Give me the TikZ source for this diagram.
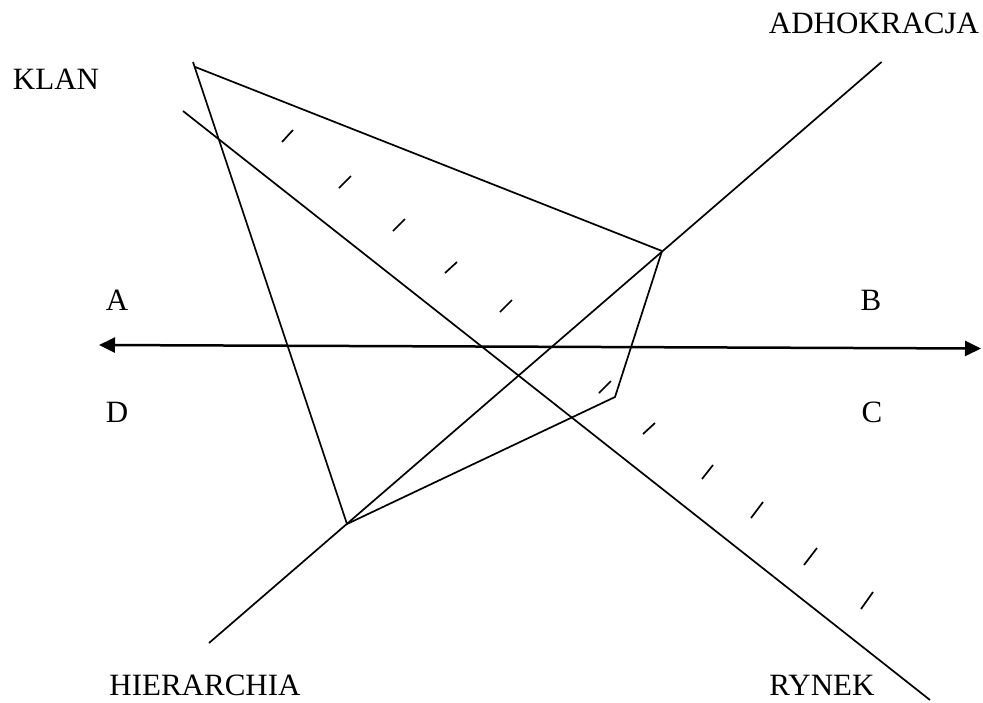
\documentclass[tikz,border=0pt]{standalone}
\usepackage{fontspec}
\setmainfont{Liberation Serif}
\usetikzlibrary{arrows.meta}
\begin{document}
\begin{tikzpicture}[x=1pt,y=-1pt,
  lbl/.style={anchor=base,inner sep=0pt,font=\fontsize{31}{31}\selectfont},
  thinline/.style={line width=1.7pt,line cap=butt},
  axisline/.style={line width=2.5pt,{Triangle[length=16pt,width=15pt]}-{Triangle[length=16pt,width=15pt]}},
  tick/.style={line width=1.7pt}]
\useasboundingbox (0,0) rectangle (983,702);
% labels
\node[lbl] (klan) at (56,89) {KLAN};
\node[lbl] (adh) at (874,33) {ADHOKRACJA};
\node[lbl] (a) at (117,310) {A};
\node[lbl] (b) at (871,310) {B};
\node[lbl] (d) at (117,422) {D};
\node[lbl] (c) at (872,422) {C};
\node[lbl] (hier) at (205,695) {HIERARCHIA};
\node[lbl] (rynek) at (822,695) {RYNEK};
% coordinates
\coordinate (d1a) at (881.5,62);
\coordinate (d1b) at (209,643);
\coordinate (d2a) at (183,111);
\coordinate (d2b) at (930,700);
\coordinate (axl) at (99,345);
\coordinate (axr) at (981,348.5);
\coordinate (p1) at (193,62);
\coordinate (p2) at (662,251);
\coordinate (p3) at (615,397);
\coordinate (p4) at (347,524);
% lines
\draw[thinline] (d1a) -- (d1b);
\draw[thinline] (d2a) -- (d2b);
\draw[axisline] (axl) -- (axr);
\draw[thinline,line join=miter] (p1) -- (p4) -- (p3) -- (p2) -- (194,66.5);
% ticks
\foreach \xa/\ya/\xb/\yb in {
  282/142/293/130, 339/188/351/176, 393/231/405/219, 445/273/457/262,
  500/312/512/300, 599/393/611/381, 643/434/655/423, 702/479/713/465,
  751/518/763/502, 804/565/817/548, 861/609/873/592}
  \draw[tick] (\xa,\ya) -- (\xb,\yb);
\end{tikzpicture}
\end{document}
